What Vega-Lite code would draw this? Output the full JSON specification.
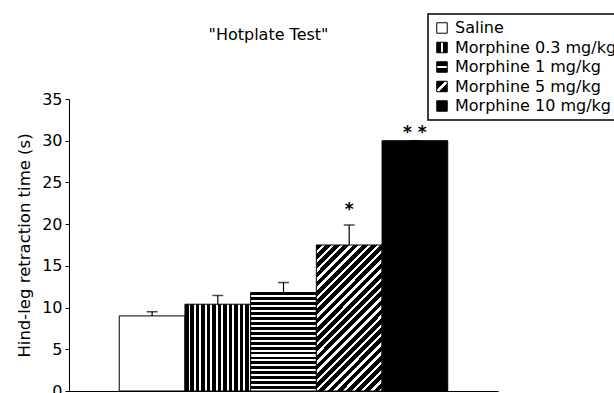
{
  "$schema": "https://vega.github.io/schema/vega-lite/v6.json",
  "autosize": {"type": "none"},
  "padding": {"left": 69, "top": 99, "right": 116, "bottom": 2},
  "width": 429,
  "height": 292,
  "background": "white",
  "title": {"text": "\"Hotplate Test\"", "font": "DejaVu Sans", "fontSize": 16, "fontWeight": "normal", "color": "black", "anchor": "middle", "dx": -15, "offset": 10, "dy": 40},
  "config": {
    "view": {"stroke": null},
    "axis": {"labelFont": "DejaVu Sans", "labelFontSize": 16, "labelColor": "black", "titleFont": "DejaVu Sans", "titleFontSize": 16.5, "titleFontWeight": "normal", "titleColor": "black", "domainColor": "black", "tickColor": "black", "grid": false}
  },
  "layer": [
    {
      "data": {"values": [
        {"group": "Saline", "mean": 9.0, "upper": 9.5},
        {"group": "Morphine 0.3 mg/kg", "mean": 10.4, "upper": 11.45},
        {"group": "Morphine 1 mg/kg", "mean": 11.8, "upper": 13.0},
        {"group": "Morphine 5 mg/kg", "mean": 17.5, "upper": 19.9},
        {"group": "Morphine 10 mg/kg", "mean": 30.0, "upper": 30.0}
      ]},
      "layer": [
        {
          "mark": {"type": "bar", "stroke": "black", "strokeWidth": 1, "opacity": 1, "fillOpacity": 1},
          "encoding": {
            "x": {"field": "group", "type": "nominal", "sort": null,
                  "scale": {"domain": ["Saline", "Morphine 0.3 mg/kg", "Morphine 1 mg/kg", "Morphine 5 mg/kg", "Morphine 10 mg/kg"], "paddingInner": 0, "paddingOuter": 0.765},
                  "axis": {"labels": false, "ticks": false, "title": null, "domainColor": "black"}},
            "y": {"field": "mean", "type": "quantitative", "title": "Hind-leg retraction time (s)",
                  "scale": {"domain": [0, 35], "nice": false},
                  "axis": {"values": [0, 5, 10, 15, 20, 25, 30, 35], "tickSize": 4, "labelPadding": 3, "titlePadding": 9}},
            "fill": {
              "condition": [
                {"test": "datum.group === 'Saline'", "value": "white"},
                {"test": "datum.group === 'Morphine 0.3 mg/kg'", "value": {"gradient": "linear", "x1": 0, "y1": 0, "x2": 1, "y2": 0, "stops": [
                    {"offset": 0, "color": "black"}, {"offset": 0.0542, "color": "black"}, {"offset": 0.0542, "color": "white"}, {"offset": 0.0833, "color": "white"},
                    {"offset": 0.0833, "color": "black"}, {"offset": 0.1375, "color": "black"}, {"offset": 0.1375, "color": "white"}, {"offset": 0.1667, "color": "white"},
                    {"offset": 0.1667, "color": "black"}, {"offset": 0.2208, "color": "black"}, {"offset": 0.2208, "color": "white"}, {"offset": 0.25, "color": "white"},
                    {"offset": 0.25, "color": "black"}, {"offset": 0.3042, "color": "black"}, {"offset": 0.3042, "color": "white"}, {"offset": 0.3333, "color": "white"},
                    {"offset": 0.3333, "color": "black"}, {"offset": 0.3875, "color": "black"}, {"offset": 0.3875, "color": "white"}, {"offset": 0.4167, "color": "white"},
                    {"offset": 0.4167, "color": "black"}, {"offset": 0.4708, "color": "black"}, {"offset": 0.4708, "color": "white"}, {"offset": 0.5, "color": "white"},
                    {"offset": 0.5, "color": "black"}, {"offset": 0.5542, "color": "black"}, {"offset": 0.5542, "color": "white"}, {"offset": 0.5833, "color": "white"},
                    {"offset": 0.5833, "color": "black"}, {"offset": 0.6375, "color": "black"}, {"offset": 0.6375, "color": "white"}, {"offset": 0.6667, "color": "white"},
                    {"offset": 0.6667, "color": "black"}, {"offset": 0.7208, "color": "black"}, {"offset": 0.7208, "color": "white"}, {"offset": 0.75, "color": "white"},
                    {"offset": 0.75, "color": "black"}, {"offset": 0.8042, "color": "black"}, {"offset": 0.8042, "color": "white"}, {"offset": 0.8333, "color": "white"},
                    {"offset": 0.8333, "color": "black"}, {"offset": 0.8875, "color": "black"}, {"offset": 0.8875, "color": "white"}, {"offset": 0.9167, "color": "white"},
                    {"offset": 0.9167, "color": "black"}, {"offset": 0.9708, "color": "black"}, {"offset": 0.9708, "color": "white"}, {"offset": 1, "color": "white"}
                  ]}},
                {"test": "datum.group === 'Morphine 1 mg/kg'", "value": {"gradient": "linear", "x1": 0, "y1": 0, "x2": 0, "y2": 1, "stops": [
                    {"offset": 0, "color": "black"}, {"offset": 0.029, "color": "black"}, {"offset": 0.029, "color": "white"}, {"offset": 0.05, "color": "white"},
                    {"offset": 0.05, "color": "black"}, {"offset": 0.079, "color": "black"}, {"offset": 0.079, "color": "white"}, {"offset": 0.1, "color": "white"},
                    {"offset": 0.1, "color": "black"}, {"offset": 0.129, "color": "black"}, {"offset": 0.129, "color": "white"}, {"offset": 0.15, "color": "white"},
                    {"offset": 0.15, "color": "black"}, {"offset": 0.179, "color": "black"}, {"offset": 0.179, "color": "white"}, {"offset": 0.2, "color": "white"},
                    {"offset": 0.2, "color": "black"}, {"offset": 0.229, "color": "black"}, {"offset": 0.229, "color": "white"}, {"offset": 0.25, "color": "white"},
                    {"offset": 0.25, "color": "black"}, {"offset": 0.279, "color": "black"}, {"offset": 0.279, "color": "white"}, {"offset": 0.3, "color": "white"},
                    {"offset": 0.3, "color": "black"}, {"offset": 0.329, "color": "black"}, {"offset": 0.329, "color": "white"}, {"offset": 0.35, "color": "white"},
                    {"offset": 0.35, "color": "black"}, {"offset": 0.379, "color": "black"}, {"offset": 0.379, "color": "white"}, {"offset": 0.4, "color": "white"},
                    {"offset": 0.4, "color": "black"}, {"offset": 0.429, "color": "black"}, {"offset": 0.429, "color": "white"}, {"offset": 0.45, "color": "white"},
                    {"offset": 0.45, "color": "black"}, {"offset": 0.479, "color": "black"}, {"offset": 0.479, "color": "white"}, {"offset": 0.5, "color": "white"},
                    {"offset": 0.5, "color": "black"}, {"offset": 0.529, "color": "black"}, {"offset": 0.529, "color": "white"}, {"offset": 0.55, "color": "white"},
                    {"offset": 0.55, "color": "black"}, {"offset": 0.579, "color": "black"}, {"offset": 0.579, "color": "white"}, {"offset": 0.6, "color": "white"},
                    {"offset": 0.6, "color": "black"}, {"offset": 0.629, "color": "black"}, {"offset": 0.629, "color": "white"}, {"offset": 0.65, "color": "white"},
                    {"offset": 0.65, "color": "black"}, {"offset": 0.679, "color": "black"}, {"offset": 0.679, "color": "white"}, {"offset": 0.7, "color": "white"},
                    {"offset": 0.7, "color": "black"}, {"offset": 0.729, "color": "black"}, {"offset": 0.729, "color": "white"}, {"offset": 0.75, "color": "white"},
                    {"offset": 0.75, "color": "black"}, {"offset": 0.779, "color": "black"}, {"offset": 0.779, "color": "white"}, {"offset": 0.8, "color": "white"},
                    {"offset": 0.8, "color": "black"}, {"offset": 0.829, "color": "black"}, {"offset": 0.829, "color": "white"}, {"offset": 0.85, "color": "white"},
                    {"offset": 0.85, "color": "black"}, {"offset": 0.879, "color": "black"}, {"offset": 0.879, "color": "white"}, {"offset": 0.9, "color": "white"},
                    {"offset": 0.9, "color": "black"}, {"offset": 0.929, "color": "black"}, {"offset": 0.929, "color": "white"}, {"offset": 0.95, "color": "white"},
                    {"offset": 0.95, "color": "black"}, {"offset": 0.979, "color": "black"}, {"offset": 0.979, "color": "white"}, {"offset": 1, "color": "white"}
                  ]}},
                {"test": "datum.group === 'Morphine 5 mg/kg'", "value": {"gradient": "linear", "x1": 0, "y1": 0, "x2": 0.545, "y2": 1.207, "stops": [
                    {"offset": 0, "color": "black"}, {"offset": 0.027, "color": "black"}, {"offset": 0.027, "color": "white"}, {"offset": 0.0435, "color": "white"},
                    {"offset": 0.0435, "color": "black"}, {"offset": 0.0704, "color": "black"}, {"offset": 0.0704, "color": "white"}, {"offset": 0.087, "color": "white"},
                    {"offset": 0.087, "color": "black"}, {"offset": 0.1139, "color": "black"}, {"offset": 0.1139, "color": "white"}, {"offset": 0.1304, "color": "white"},
                    {"offset": 0.1304, "color": "black"}, {"offset": 0.1574, "color": "black"}, {"offset": 0.1574, "color": "white"}, {"offset": 0.1739, "color": "white"},
                    {"offset": 0.1739, "color": "black"}, {"offset": 0.2009, "color": "black"}, {"offset": 0.2009, "color": "white"}, {"offset": 0.2174, "color": "white"},
                    {"offset": 0.2174, "color": "black"}, {"offset": 0.2443, "color": "black"}, {"offset": 0.2443, "color": "white"}, {"offset": 0.2609, "color": "white"},
                    {"offset": 0.2609, "color": "black"}, {"offset": 0.2878, "color": "black"}, {"offset": 0.2878, "color": "white"}, {"offset": 0.3043, "color": "white"},
                    {"offset": 0.3043, "color": "black"}, {"offset": 0.3313, "color": "black"}, {"offset": 0.3313, "color": "white"}, {"offset": 0.3478, "color": "white"},
                    {"offset": 0.3478, "color": "black"}, {"offset": 0.3748, "color": "black"}, {"offset": 0.3748, "color": "white"}, {"offset": 0.3913, "color": "white"},
                    {"offset": 0.3913, "color": "black"}, {"offset": 0.4183, "color": "black"}, {"offset": 0.4183, "color": "white"}, {"offset": 0.4348, "color": "white"},
                    {"offset": 0.4348, "color": "black"}, {"offset": 0.4617, "color": "black"}, {"offset": 0.4617, "color": "white"}, {"offset": 0.4783, "color": "white"},
                    {"offset": 0.4783, "color": "black"}, {"offset": 0.5052, "color": "black"}, {"offset": 0.5052, "color": "white"}, {"offset": 0.5217, "color": "white"},
                    {"offset": 0.5217, "color": "black"}, {"offset": 0.5487, "color": "black"}, {"offset": 0.5487, "color": "white"}, {"offset": 0.5652, "color": "white"},
                    {"offset": 0.5652, "color": "black"}, {"offset": 0.5922, "color": "black"}, {"offset": 0.5922, "color": "white"}, {"offset": 0.6087, "color": "white"},
                    {"offset": 0.6087, "color": "black"}, {"offset": 0.6357, "color": "black"}, {"offset": 0.6357, "color": "white"}, {"offset": 0.6522, "color": "white"},
                    {"offset": 0.6522, "color": "black"}, {"offset": 0.6791, "color": "black"}, {"offset": 0.6791, "color": "white"}, {"offset": 0.6957, "color": "white"},
                    {"offset": 0.6957, "color": "black"}, {"offset": 0.7226, "color": "black"}, {"offset": 0.7226, "color": "white"}, {"offset": 0.7391, "color": "white"},
                    {"offset": 0.7391, "color": "black"}, {"offset": 0.7661, "color": "black"}, {"offset": 0.7661, "color": "white"}, {"offset": 0.7826, "color": "white"},
                    {"offset": 0.7826, "color": "black"}, {"offset": 0.8096, "color": "black"}, {"offset": 0.8096, "color": "white"}, {"offset": 0.8261, "color": "white"},
                    {"offset": 0.8261, "color": "black"}, {"offset": 0.853, "color": "black"}, {"offset": 0.853, "color": "white"}, {"offset": 0.8696, "color": "white"},
                    {"offset": 0.8696, "color": "black"}, {"offset": 0.8965, "color": "black"}, {"offset": 0.8965, "color": "white"}, {"offset": 0.913, "color": "white"},
                    {"offset": 0.913, "color": "black"}, {"offset": 0.94, "color": "black"}, {"offset": 0.94, "color": "white"}, {"offset": 0.9565, "color": "white"},
                    {"offset": 0.9565, "color": "black"}, {"offset": 0.9835, "color": "black"}, {"offset": 0.9835, "color": "white"}, {"offset": 1, "color": "white"}
                  ]}}
              ],
              "value": "black"
            }
          }
        },
        {
          "mark": {"type": "point", "opacity": 0, "filled": true},
          "encoding": {
            "x": {"field": "group", "type": "nominal", "sort": null},
            "y": {"field": "mean", "type": "quantitative", "title": "Hind-leg retraction time (s)"},
            "shape": {"field": "group", "type": "nominal", "sort": null,
              "scale": {"domain": ["Saline", "Morphine 0.3 mg/kg", "Morphine 1 mg/kg", "Morphine 5 mg/kg", "Morphine 10 mg/kg"],
                "range": ["square", "square", "square", "square", "square"]},
              "legend": {
                "title": null, "orient": "none", "legendX": 359, "legendY": -85, "direction": "vertical",
                "symbolSize": 110, "symbolStrokeColor": "black", "symbolStrokeWidth": 1, "symbolOpacity": 1,
                "labelFont": "DejaVu Sans", "labelFontSize": 16, "labelColor": "black", "labelOffset": 5, "labelLimit": 400,
                "rowPadding": 3.5, "padding": 6, "strokeColor": "black", "fillColor": "white",
                "encoding": {
                  "legend": {"strokeWidth": {"value": 1.5}},
                  "symbols": {
                    "opacity": {"value": 1},
                    "stroke": {"value": "black"},
                    "strokeWidth": {"value": 1},
                    "fill": {
                      "condition": [
                        {"test": "datum.value === 'Saline'", "value": "white"},
                        {"test": "datum.value === 'Morphine 0.3 mg/kg'", "value": {"gradient": "linear", "x1": 0, "y1": 0, "x2": 1, "y2": 0, "stops": [{"offset": 0, "color": "black"}, {"offset": 0.4, "color": "black"}, {"offset": 0.4, "color": "white"}, {"offset": 0.58, "color": "white"}, {"offset": 0.58, "color": "black"}, {"offset": 1, "color": "black"}]}},
                        {"test": "datum.value === 'Morphine 1 mg/kg'", "value": {"gradient": "linear", "x1": 0, "y1": 0, "x2": 0, "y2": 1, "stops": [{"offset": 0, "color": "black"}, {"offset": 0.4, "color": "black"}, {"offset": 0.4, "color": "white"}, {"offset": 0.6, "color": "white"}, {"offset": 0.6, "color": "black"}, {"offset": 1, "color": "black"}]}},
                        {"test": "datum.value === 'Morphine 5 mg/kg'", "value": {"gradient": "linear", "x1": 0, "y1": 0, "x2": 1, "y2": 1, "stops": [{"offset": 0, "color": "black"}, {"offset": 0.42, "color": "black"}, {"offset": 0.42, "color": "white"}, {"offset": 0.58, "color": "white"}, {"offset": 0.58, "color": "black"}, {"offset": 1, "color": "black"}]}}
                      ],
                      "value": "black"
                    }
                  }
                }
              }
            }
          }
        },
        {
          "mark": {"type": "rule", "color": "black", "strokeWidth": 1.2},
          "encoding": {
            "x": {"field": "group", "type": "nominal", "sort": null},
            "y": {"field": "mean", "type": "quantitative", "title": "Hind-leg retraction time (s)"},
            "y2": {"field": "upper"}
          }
        },
        {
          "mark": {"type": "tick", "color": "black", "thickness": 1.5, "size": 11, "orient": "horizontal"},
          "encoding": {
            "x": {"field": "group", "type": "nominal", "sort": null},
            "y": {"field": "upper", "type": "quantitative", "title": "Hind-leg retraction time (s)"}
          }
        }
      ]
    },
    {
      "data": {"values": [
        {"group": "Morphine 5 mg/kg", "label": "*", "ypos": 21.1},
        {"group": "Morphine 10 mg/kg", "label": "* *", "ypos": 30.3}
      ]},
      "mark": {"type": "text", "font": "DejaVu Sans", "fontSize": 17, "fontWeight": "bold", "color": "black", "baseline": "alphabetic", "align": "center"},
      "encoding": {
        "x": {"field": "group", "type": "nominal", "sort": null},
        "y": {"field": "ypos", "type": "quantitative", "title": "Hind-leg retraction time (s)"},
        "text": {"field": "label"}
      }
    }
  ]
}
